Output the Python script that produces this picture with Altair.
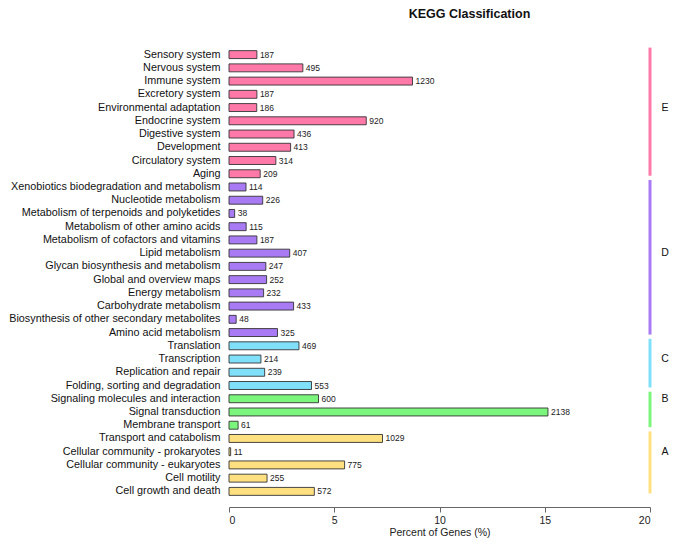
import altair as alt
import pandas as pd

categories = [
    "Sensory system", "Nervous system", "Immune system", "Excretory system",
    "Environmental adaptation", "Endocrine system", "Digestive system",
    "Development", "Circulatory system", "Aging",
    "Xenobiotics biodegradation and metabolism", "Nucleotide metabolism",
    "Metabolism of terpenoids and polyketides", "Metabolism of other amino acids",
    "Metabolism of cofactors and vitamins", "Lipid metabolism",
    "Glycan biosynthesis and metabolism", "Global and overview maps",
    "Energy metabolism", "Carbohydrate metabolism",
    "Biosynthesis of other secondary metabolites", "Amino acid metabolism",
    "Translation", "Transcription", "Replication and repair",
    "Folding, sorting and degradation",
    "Signaling molecules and interaction", "Signal transduction", "Membrane transport",
    "Transport and catabolism", "Cellular community - prokaryotes",
    "Cellular community - eukaryotes", "Cell motility", "Cell growth and death",
]
counts = [187, 495, 1230, 187, 186, 920, 436, 413, 314, 209,
          114, 226, 38, 115, 187, 407, 247, 252, 232, 433, 48, 325,
          469, 214, 239, 553,
          600, 2138, 61,
          1029, 11, 775, 255, 572]
groups = ["E"] * 10 + ["D"] * 12 + ["C"] * 4 + ["B"] * 3 + ["A"] * 5
TOTAL_GENES = 14110

group_order = ["E", "D", "C", "B", "A"]
group_colors = ["#FF79A8", "#A87BF5", "#80E0FA", "#7CF57C", "#FFE080"]

df = pd.DataFrame({"category": categories, "count": counts, "group": groups})

# group spans for the side lines and labels
span_rows = []
for g in group_order:
    members = [c for c, gg in zip(categories, groups) if gg == g]
    n = len(members)
    span_rows.append({"group": g, "first": members[0], "last": members[-1],
                      "mid": members[max(n // 2 - 1, 0)], "xpos": 20})
spans = pd.DataFrame(span_rows)

FONT = "Liberation Sans"

y_scale = alt.Scale(domain=categories, paddingInner=0.4, paddingOuter=0.2)
y_enc = alt.Y("category:N", scale=y_scale,
              axis=alt.Axis(title=None, domain=False, ticks=False, labelPadding=9,
                            labelFontSize=10.8, labelLimit=0, labelColor="#111",
                            labelFont=FONT))
x_scale = alt.Scale(domain=[0, 20], nice=False)
color_scale = alt.Scale(domain=group_order, range=group_colors)

base = alt.Chart(df).transform_calculate(pct=f"datum.count / {TOTAL_GENES} * 100")

bars = base.mark_bar(stroke="#333", strokeWidth=0.9).encode(
    x=alt.X("pct:Q", scale=x_scale,
            axis=alt.Axis(values=[0, 5, 10, 15, 20], grid=False, offset=9, tickSize=5,
                          domainColor="#666", tickColor="#666", labelColor="#222",
                          labelFontSize=10.5, labelPadding=3, labelFont=FONT,
                          title="Percent of Genes (%)", titleFontSize=10.5,
                          titleFontWeight="normal", titleFont=FONT, titleColor="#222",
                          titlePadding=2)),
    y=y_enc,
    color=alt.Color("group:N", scale=color_scale, legend=None),
)

values = base.mark_text(align="left", baseline="middle", dx=3, fontSize=8.5,
                        font=FONT, color="#222").encode(
    x=alt.X("pct:Q", scale=x_scale),
    y=alt.Y("category:N", scale=y_scale),
    text="count:Q",
)

lines = alt.Chart(spans).mark_rule(strokeWidth=3, yOffset=-7, y2Offset=2).encode(
    x=alt.X("xpos:Q", scale=x_scale),
    y=alt.Y("first:N", scale=y_scale),
    y2="last:N",
    color=alt.Color("group:N", scale=color_scale, legend=None),
)

letters = alt.Chart(spans).mark_text(dx=15, fontSize=10.5, font=FONT, color="#111",
                                     baseline="middle", align="center").encode(
    x=alt.X("xpos:Q", scale=x_scale),
    y=alt.Y("mid:N", scale=y_scale),
    text="group:N",
)

chart = alt.layer(bars, values, lines, letters).properties(
    width=421, height=450,
    title=alt.TitleParams("KEGG Classification", fontSize=12.5, fontWeight="bold",
                          font=FONT, anchor="middle", dx=30, offset=26, color="#111"),
    autosize=alt.AutoSizeParams(type="none"),
    padding={"left": 221, "top": 40, "right": 19, "bottom": 46},
).configure_view(stroke=None)

chart.save("out.html", embed_options={"renderer": "svg", "actions": False})
